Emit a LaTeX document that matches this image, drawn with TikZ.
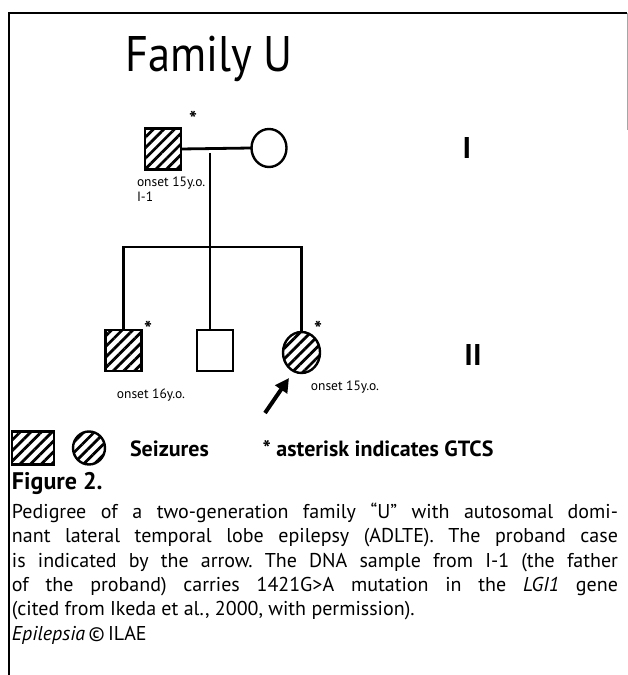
\documentclass[tikz,border=0pt]{standalone}
\usepackage{fontspec}
\setmainfont{PT Sans}
\usepackage{graphicx}
\usepackage{tikz}
\usetikzlibrary{arrows.meta, positioning, patterns.meta, shapes.geometric}

\begin{document}
\begin{tikzpicture}[
        x=1pt, y=1pt,
        every node/.style = {inner sep=0pt, outer sep=0pt},
        male/.style     = {rectangle, draw=black, line width=2.6pt,
                           minimum width=36pt, minimum height=41pt},
        female/.style   = {ellipse, draw=black, line width=2.4pt,
                           minimum width=35pt, minimum height=38pt},
        affected/.style = {pattern={Lines[angle=45, distance=7.5pt, line width=2.8pt]}},
        kin/.style      = {line width=2.8pt},
        gtcs/.style     = {font=\bfseries\fontsize{21}{21}\selectfont},
        onset/.style    = {font=\fontsize{13.5}{15}\selectfont, align=left},
        gen/.style      = {font=\bfseries\fontsize{30}{30}\selectfont},
        legend/.style   = {font=\bfseries\fontsize{22}{24}\selectfont},
        proband/.style  = {-{Triangle[length=14pt, width=14pt]}, line width=4pt}
    ]

    \fill[white] (0,0) rectangle (628,675);
    \useasboundingbox (0,0) rectangle (628,675);

    % --- frame ---
    \draw[line width=1.6pt] (9,0) -- (9,662) -- (627,662);
    \draw[line width=0.6pt, black!35] (627,662) -- (627,545);

    % --- title ---
    \node[font=\fontsize{50}{54}\selectfont, anchor=base west] (title) at (125,603)
        {\scalebox{0.89}[1]{Family U}};

    % --- generation I ---
    \node[male, affected] (i1) at (163,526) {};
    \node[female]         (i2) at (269,527) {};
    \node[gtcs] (i1s) at (193,556) {*};
    \node[onset, anchor=west] (i1on) at (137,486) {onset 15y.o.\\I-1};
    \node[gen] (genI) at (467,527) {I};

    % --- generation II ---
    \node[male, affected] (ii1) at (123.5,324.5) {};
    \node[male]           (ii2) at (215,324.5)   {};
    \node[female, affected, minimum width=37pt, minimum height=41pt] (ii3) at (301.5,322.5) {};
    \node[gtcs] (ii1s) at (148,346) {*};
    \node[gtcs] (ii3s) at (318,346) {*};
    \node[onset] (ii1on) at (151,280) {onset 16y.o.};
    \node[onset] (ii3on) at (345,288) {onset 15y.o.};
    \node[gen] (genII) at (473,320) {II};

    % --- lines of descent ---
    \coordinate (dtop) at (210,522);
    \coordinate (dbot) at (210,428);
    \draw[kin] (i1.east) -- (i2.west);
    \draw[kin] (dtop) -- (dbot);
    \draw[kin] (ii1.north) -- (ii1.north |- dbot) -- (ii3.north |- dbot) -- (ii3.north);
    \draw[kin] (dbot) -- (dbot |- ii2.north);

    % proband arrow
    \coordinate (tail) at (265,262);
    \draw[proband] (tail) -- ([shift={(-12.5,-5)}]ii3.south);

    % --- legend ---
    \node[male, affected, minimum width=42pt, minimum height=33pt] (legm) at (33,227) {};
    \node[female, affected, minimum width=32pt, minimum height=33pt] (legf) at (89,227) {};
    \node[legend, anchor=base west] (seiz) at (130,218) {Seizures};
    \node[legend, anchor=base] (astk) at (378,218) {* asterisk indicates GTCS};

    % --- caption ---
    \node[font=\bfseries\fontsize{24}{26}\selectfont, anchor=base west] (fig) at (12,185) {Figure 2.};
    \node[font=\frenchspacing\fontsize{20}{24.3}\selectfont, text width=606pt, align=justify,
          anchor=north west] (cap) at (12,172)
        {Pedigree of a two-generation family “U” with autosomal domi-\linebreak
         nant lateral temporal lobe epilepsy (ADLTE). The proband case\linebreak
         is indicated by the arrow. The DNA sample from I-1 (the father\linebreak
         of the proband) carries 1421G>A mutation in the \textit{LGI1} gene\linebreak
         (cited from Ikeda et al., 2000, with permission).\\
         \textit{Epilepsia}\,©\,ILAE};

\end{tikzpicture}
\end{document}
